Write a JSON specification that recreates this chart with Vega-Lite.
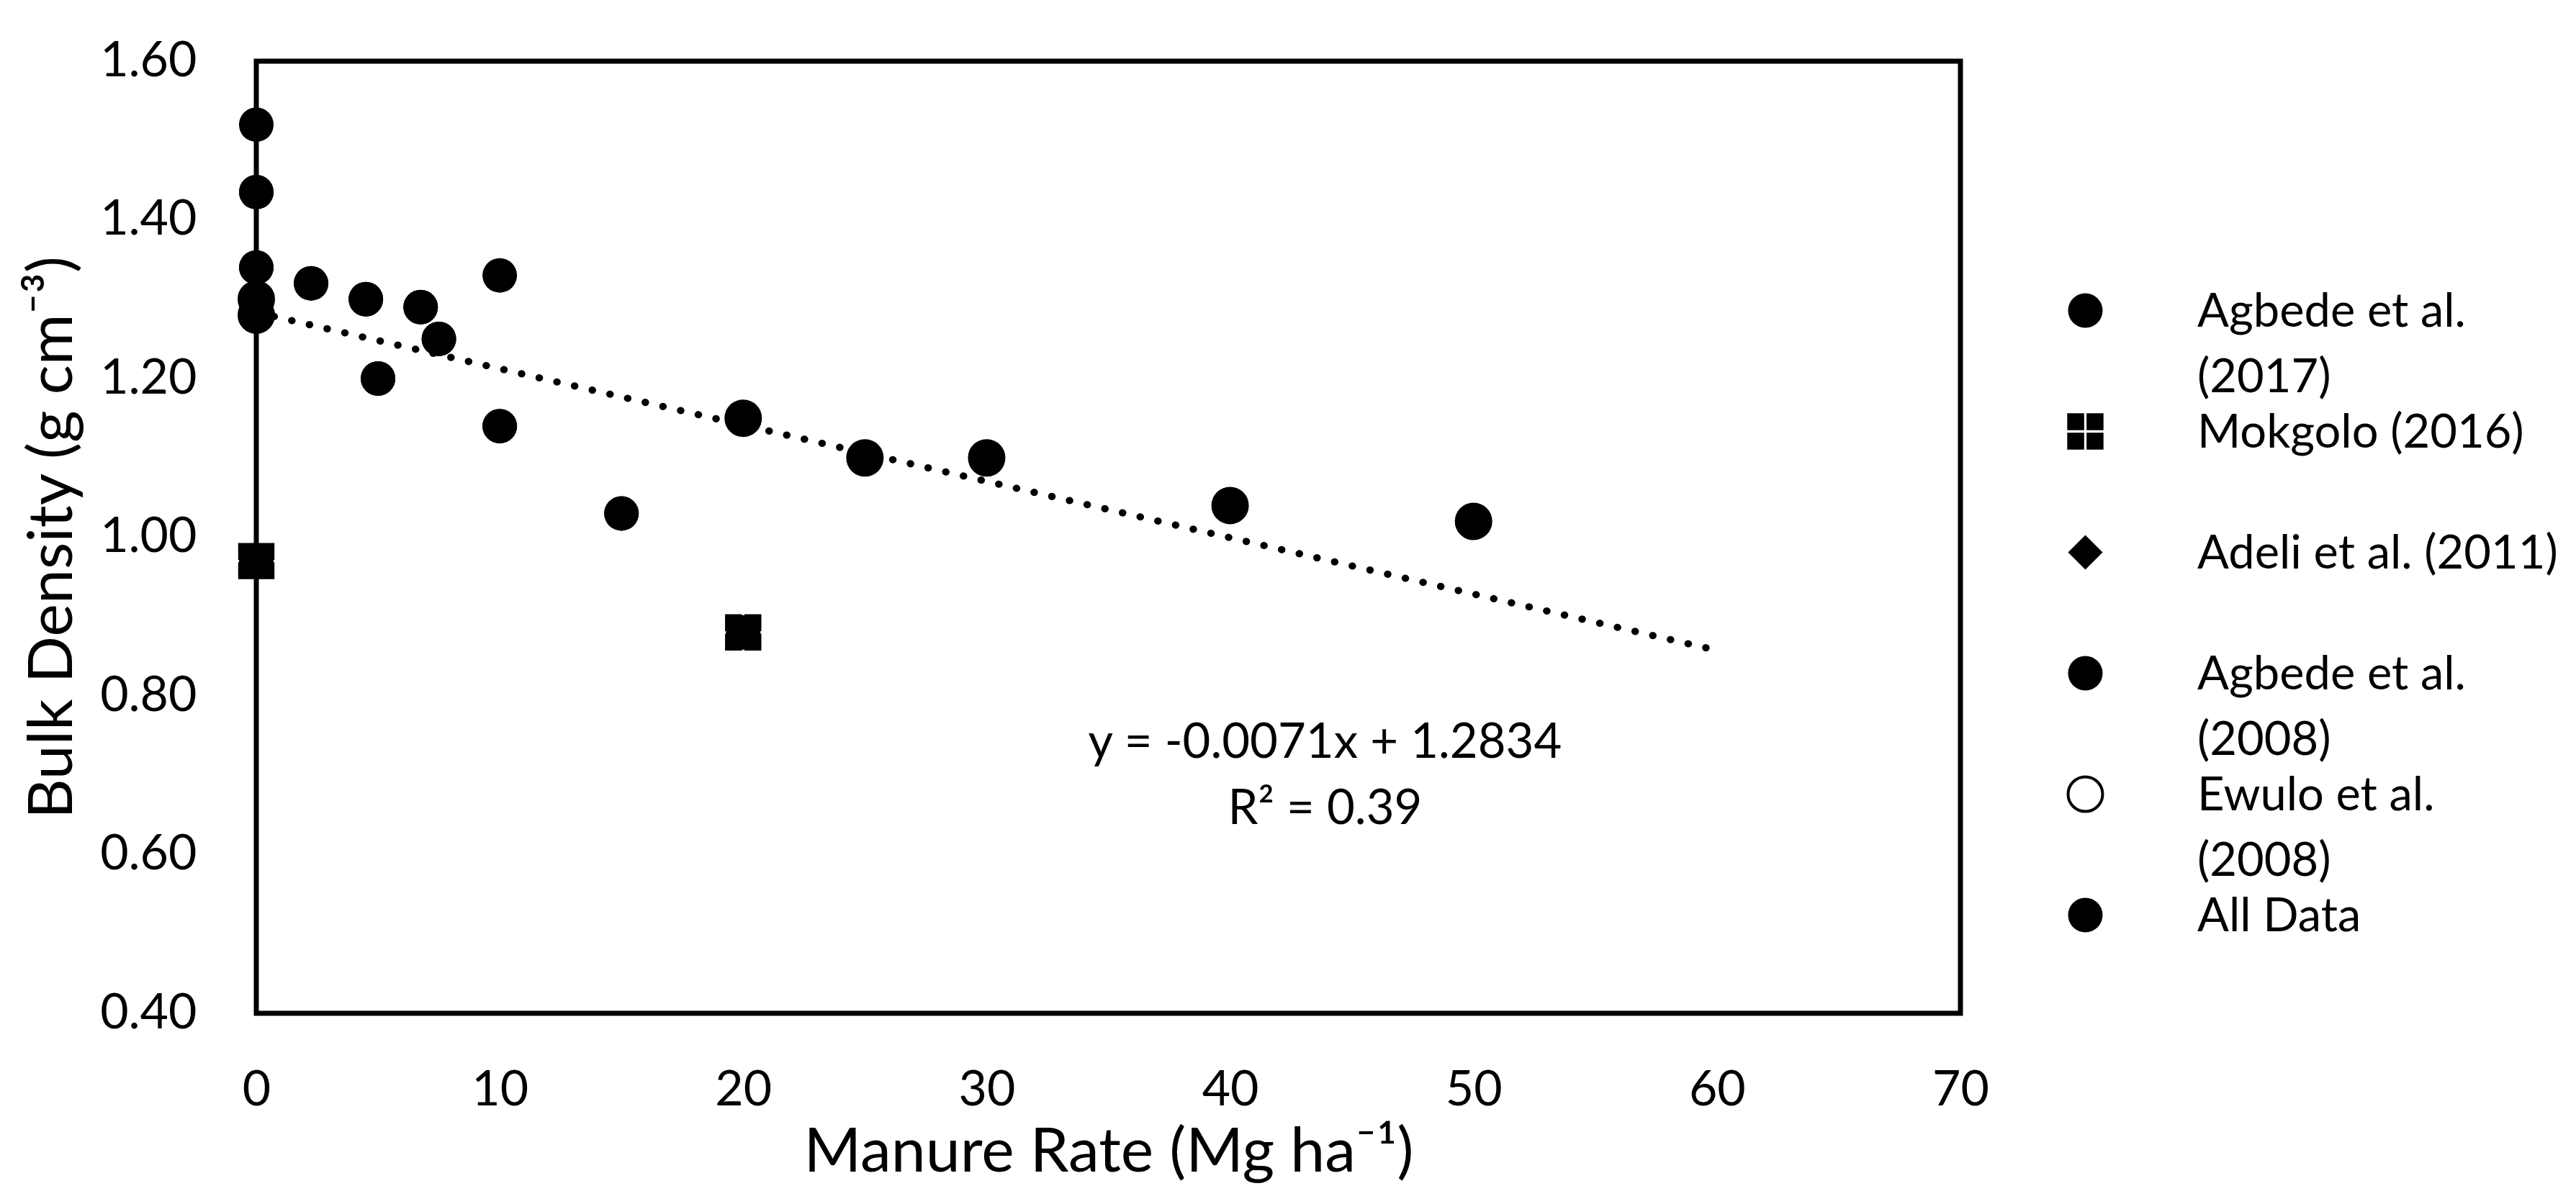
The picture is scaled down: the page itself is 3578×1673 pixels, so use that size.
{
  "$schema": "https://vega.github.io/schema/vega-lite/v6.json",
  "width": 2367,
  "height": 1323,
  "autosize": {"type": "none"},
  "padding": {"left": 356, "top": 85, "right": 855, "bottom": 265},
  "background": "white",
  "config": {
    "font": "Lato",
    "view": {"stroke": "black", "strokeWidth": 7},
    "axis": {
      "grid": false, "ticks": false, "tickSize": 0, "domain": false,
      "labelFont": "Lato", "labelFontSize": 68, "labelColor": "black",
      "titleFont": "Lato", "titleFontSize": 86, "titleFontWeight": "normal", "titleColor": "black"
    },
    "legend": {
      "orient": "none",
      "legendX": 2508,
      "legendY": 314,
      "padding": 0,
      "labelFont": "Lato",
      "labelFontSize": 65,
      "labelColor": "black",
      "labelLimit": 0,
      "labelOffset": 123,
      "labelBaseline": "alphabetic",
      "gridAlign": "all",
      "rowPadding": 8,
      "symbolOpacity": 1,
      "symbolSize": 2304,
      "symbolStrokeWidth": 4
    },
    "style": {"guide-label": {"dy": 22, "lineHeight": 91}}
  },
  "datasets": {
    "points": [
      {"source": "Agbede et al. (2017)", "rate": 0, "bd": 1.34},
      {"source": "Agbede et al. (2017)", "rate": 2.25, "bd": 1.32},
      {"source": "Agbede et al. (2017)", "rate": 4.5, "bd": 1.30},
      {"source": "Agbede et al. (2017)", "rate": 6.75, "bd": 1.29},
      {"source": "Mokgolo (2016)", "rate": 0, "bd": 0.97},
      {"source": "Mokgolo (2016)", "rate": 20, "bd": 0.88},
      {"source": "Adeli et al. (2011)", "rate": 0, "bd": 1.52},
      {"source": "Adeli et al. (2011)", "rate": 10, "bd": 1.33},
      {"source": "Agbede et al. (2008)", "rate": 0, "bd": 1.435},
      {"source": "Agbede et al. (2008)", "rate": 5, "bd": 1.20},
      {"source": "Agbede et al. (2008)", "rate": 7.5, "bd": 1.25},
      {"source": "Agbede et al. (2008)", "rate": 10, "bd": 1.14},
      {"source": "Agbede et al. (2008)", "rate": 15, "bd": 1.03},
      {"source": "Ewulo et al. (2008)", "rate": 0, "bd": 1.30},
      {"source": "Ewulo et al. (2008)", "rate": 0, "bd": 1.28},
      {"source": "Ewulo et al. (2008)", "rate": 20, "bd": 1.15},
      {"source": "Ewulo et al. (2008)", "rate": 25, "bd": 1.10},
      {"source": "Ewulo et al. (2008)", "rate": 30, "bd": 1.10},
      {"source": "Ewulo et al. (2008)", "rate": 40, "bd": 1.04},
      {"source": "Ewulo et al. (2008)", "rate": 50, "bd": 1.02}
    ],
    "trend": [
      {"rate": 0, "bd": 1.2834},
      {"rate": 60, "bd": 0.8574}
    ]
  },
  "layer": [
    {
      "data": {"name": "trend"},
      "mark": {"type": "line", "color": "black", "strokeWidth": 10, "strokeDash": [0.5, 24.7], "strokeCap": "round"},
      "encoding": {
        "x": {"field": "rate", "type": "quantitative", "scale": {"domain": [0, 70], "nice": false},
              "axis": {"values": [0, 10, 20, 30, 40, 50, 60, 70], "labelPadding": 51, "labelFlush": false, "labelAngle": 0, "titlePadding": 10},
              "title": "Manure Rate (Mg ha⁻¹)"},
        "y": {"field": "bd", "type": "quantitative", "scale": {"domain": [0.4, 1.6], "nice": false, "zero": false},
              "axis": {"values": [0.4, 0.6, 0.8, 1.0, 1.2, 1.4, 1.6], "format": ".2f", "labelPadding": 83, "labelOffset": -22, "labelFlush": false, "titlePadding": 39},
              "title": "Bulk Density (g cm⁻³)"}
      }
    },
    {
      "data": {"name": "points"},
      "mark": {"type": "point", "filled": true, "size": 2304, "strokeWidth": 4, "opacity": 1},
      "encoding": {
        "x": {"field": "rate", "type": "quantitative"},
        "y": {"field": "bd", "type": "quantitative"},
        "shape": {
          "field": "source", "type": "nominal",
          "scale": {
            "domain": ["Agbede et al. (2017)", "Mokgolo (2016)", "Adeli et al. (2011)", "Agbede et al. (2008)", "Ewulo et al. (2008)", "All Data"],
            "range": ["circle", "M-1.05,-1.05H-0.07V-0.07H-1.05Z M0.07,-1.05H1.05V-0.07H0.07Z M-1.05,0.07H-0.07V1.05H-1.05Z M0.07,0.07H1.05V1.05H0.07Z", "diamond", "circle", "circle", "circle"]
          },
          "legend": {"title": null, "labelExpr": "datum.label == 'Agbede et al. (2017)' ? ['Agbede et al.', '(2017)'] : datum.label == 'Agbede et al. (2008)' ? ['Agbede et al.', '(2008)'] : datum.label == 'Ewulo et al. (2008)' ? ['Ewulo et al.', '(2008)'] : datum.label"}
        },
        "fill": {
          "field": "source", "type": "nominal",
          "scale": {
            "domain": ["Agbede et al. (2017)", "Mokgolo (2016)", "Adeli et al. (2011)", "Agbede et al. (2008)", "Ewulo et al. (2008)", "All Data"],
            "range": ["black", "black", "black", "black", "white", "black"]
          },
          "legend": {"title": null, "labelExpr": "datum.label == 'Agbede et al. (2017)' ? ['Agbede et al.', '(2017)'] : datum.label == 'Agbede et al. (2008)' ? ['Agbede et al.', '(2008)'] : datum.label == 'Ewulo et al. (2008)' ? ['Ewulo et al.', '(2008)'] : datum.label"}
        },
        "stroke": {
          "field": "source", "type": "nominal",
          "scale": {
            "domain": ["Agbede et al. (2017)", "Mokgolo (2016)", "Adeli et al. (2011)", "Agbede et al. (2008)", "Ewulo et al. (2008)", "All Data"],
            "range": ["transparent", "transparent", "transparent", "transparent", "black", "transparent"]
          },
          "legend": {"title": null, "labelExpr": "datum.label == 'Agbede et al. (2017)' ? ['Agbede et al.', '(2017)'] : datum.label == 'Agbede et al. (2008)' ? ['Agbede et al.', '(2008)'] : datum.label == 'Ewulo et al. (2008)' ? ['Ewulo et al.', '(2008)'] : datum.label"}
        }
      }
    },
    {
      "data": {"name": "points"},
      "mark": {"type": "circle", "size": 2304, "color": "black", "opacity": 1},
      "encoding": {
        "x": {"field": "rate", "type": "quantitative"},
        "y": {"field": "bd", "type": "quantitative"}
      }
    },
    {
      "data": {"values": [{}]},
      "mark": {"type": "text", "text": ["y = -0.0071x + 1.2834", "R² = 0.39"], "font": "Lato", "fontSize": 67, "align": "center", "baseline": "alphabetic", "lineHeight": 92, "color": "black"},
      "encoding": {
        "x": {"datum": 43.9, "type": "quantitative"},
        "y": {"datum": 0.722, "type": "quantitative"}
      }
    }
  ]
}
